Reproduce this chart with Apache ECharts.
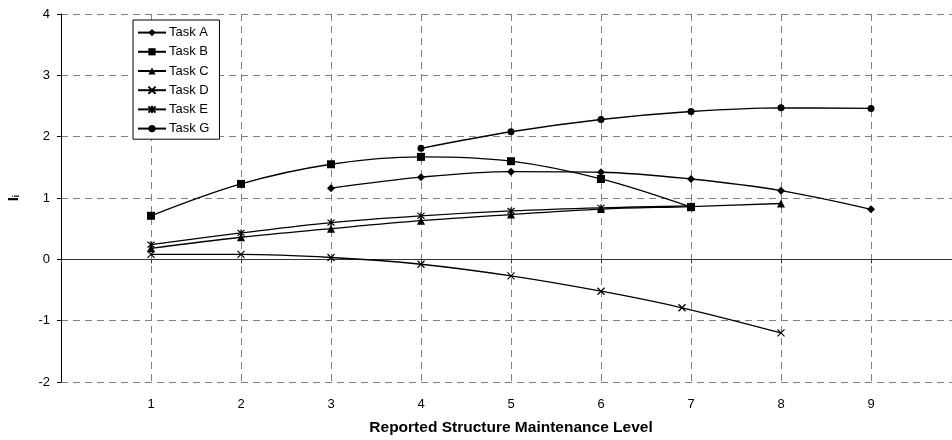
<!DOCTYPE html>
<html>
<head>
<meta charset="utf-8">
<script src="https://cdn.jsdelivr.net/npm/echarts@6/dist/echarts.min.js"></script>
<style>html,body{margin:0;padding:0;background:#fff}#c{width:952px;height:440px}</style>
</head>
<body>
<div id="c"></div>
<script>
// Data
var taskNames = ['Task A', 'Task B', 'Task C', 'Task D', 'Task E', 'Task G'];
var xA = [3, 4, 5, 6, 7, 8, 9];
var yA = [1.16, 1.34, 1.43, 1.42, 1.31, 1.12, 0.815];
var xB = [1, 2, 3, 4, 5, 6, 7];
var yB = [0.71, 1.23, 1.55, 1.67, 1.60, 1.31, 0.85];
var xC = [1, 2, 3, 4, 5, 6, 7, 8];
var yC = [0.18, 0.36, 0.50, 0.63, 0.73, 0.82, 0.86, 0.91];
var xD = [1, 2, 3, 4, 5, 6, 6.9, 8];
var yD = [0.08, 0.08, 0.03, -0.08, -0.27, -0.52, -0.79, -1.20];
var xE = [1, 2, 3, 4, 5, 6, 7];
var yE = [0.24, 0.43, 0.60, 0.71, 0.79, 0.84, 0.87];
var xG = [4, 5, 6, 7, 8, 9];
var yG = [1.81, 2.08, 2.28, 2.41, 2.47, 2.46];
var xTicks = ['1', '2', '3', '4', '5', '6', '7', '8', '9'];
var yTicks = ['-2', '-1', '0', '1', '2', '3', '4'];

function pairs(xs, ys) { return xs.map(function (x, i) { return [x, ys[i]]; }); }

var X_PATH = 'path://M0,0L10,10M10,0L0,10';
var STAR_PATH = 'path://M0,0L10,10M10,0L0,10M5,-1L5,11';

var FONT = '"Liberation Sans", Arial, sans-serif';

function mk(name, xs, ys, symbol, size, stroke) {
  return {
    name: name,
    type: 'line',
    xAxisIndex: 0,
    yAxisIndex: 0,
    data: pairs(xs, ys),
    smooth: 0.35,
    symbol: symbol,
    symbolSize: size,
    showAllSymbol: true,
    lineStyle: { color: '#000', width: 1.3 },
    itemStyle: stroke ? { color: 'transparent', borderColor: '#000', borderWidth: 1.2 } : { color: '#000', borderColor: '#000', borderWidth: 0 },
    emphasis: { disabled: true },
    z: 5
  };
}

var chart = echarts.init(document.getElementById('c'), null, { renderer: 'canvas' });
chart.setOption({
  animation: false,
  backgroundColor: '#fff',
  textStyle: { fontFamily: FONT },
  grid: { left: 61, top: 14, bottom: 58, width: 900, containLabel: false, outerBoundsMode: 'none' },
  legend: {
    orient: 'vertical',
    left: 133,
    top: 20,
    padding: [5, 10, 3, 4],
    itemGap: 4,
    itemWidth: 28,
    itemHeight: 9,
    backgroundColor: '#fff',
    borderColor: '#000',
    borderWidth: 1,
    borderRadius: 0,
    data: taskNames,
    textStyle: { fontFamily: FONT, fontSize: 13, color: '#000', lineHeight: 15.2, padding: [0, 0, 0, -2] }
  },
  xAxis: [{
    type: 'value',
    min: 0, max: 10, interval: 1,
    position: 'bottom',
    axisLine: { show: false, onZero: false },
    axisTick: { show: false },
    axisLabel: {
      fontFamily: FONT, fontSize: 13, color: '#000', margin: 16,
      formatter: function (v) { var s = String(v); return xTicks.indexOf(s) >= 0 ? s : ''; }
    },
    splitLine: { show: true, lineStyle: { color: '#808080', type: [7, 5], width: 1 } },
    name: 'Reported Structure Maintenance Level',
    nameLocation: 'middle',
    nameGap: 38,
    nameTextStyle: { fontFamily: FONT, fontSize: 15.5, fontWeight: 'bold', color: '#000' }
  }, {
    type: 'value',
    min: 0, max: 10, interval: 1,
    position: 'top',
    axisLine: { show: true, onZero: true, lineStyle: { color: '#333', width: 1 } },
    axisTick: { show: true, length: 4, inside: true, lineStyle: { color: '#333' } },
    axisLabel: { show: false },
    splitLine: { show: false }
  }],
  yAxis: {
    type: 'value',
    min: -2, max: 4, interval: 1,
    axisLine: { show: true, onZero: false, lineStyle: { color: '#000', width: 1 } },
    axisTick: { show: true, length: 4, lineStyle: { color: '#000' } },
    axisLabel: {
      fontFamily: FONT, fontSize: 13, color: '#000', margin: 11,
      formatter: function (v) { var s = String(v); return yTicks.indexOf(s) >= 0 ? s : ''; }
    },
    splitLine: { show: true, lineStyle: { color: '#808080', type: [7, 5], width: 1 } },
    name: '{a|I}{b|i}',
    nameLocation: 'middle',
    nameGap: 40,
    nameRotate: 90,
    nameTextStyle: {
      fontFamily: FONT, color: '#000',
      rich: {
        a: { fontFamily: FONT, fontSize: 15, fontWeight: 'bold', color: '#000' },
        b: { fontFamily: FONT, fontSize: 9, fontWeight: 'bold', color: '#000', verticalAlign: 'bottom', padding: [6, 0, 0, 0] }
      }
    }
  },
  series: [
    mk('Task A', xA, yA, 'diamond', 8, false),
    mk('Task B', xB, yB, 'rect', 8, false),
    mk('Task C', xC, yC, 'triangle', 8, false),
    mk('Task D', xD, yD, X_PATH, 7, true),
    mk('Task E', xE, yE, STAR_PATH, 7, true),
    mk('Task G', xG, yG, 'circle', 7, false)
  ]
});
</script>
</body>
</html>
